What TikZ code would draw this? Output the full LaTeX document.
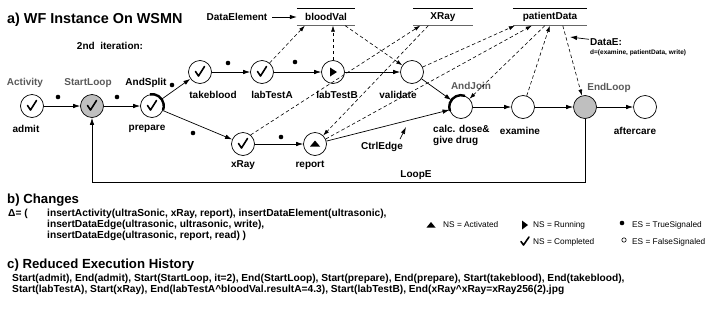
\documentclass[tikz,border=0pt]{standalone}
\usepackage{fontspec}
\setmainfont{Liberation Sans}
\usetikzlibrary{arrows.meta,calc}

\tikzset{
  act/.style={circle,draw,line width=0.7pt,minimum size=23pt,inner sep=0pt,fill=white},
  loopact/.style={act,fill=black!25},
  lbl/.style={font=\bfseries\fontsize{10}{11.5}\selectfont,inner sep=0pt},
  tag/.style={lbl,text=black!65},
  tiny/.style={font=\bfseries\fontsize{6.5}{8}\selectfont,inner sep=0pt},
  head/.style={font=\bfseries\fontsize{14.4}{16}\selectfont,inner sep=0pt},
  sect/.style={font=\bfseries\fontsize{13.2}{15}\selectfont,inner sep=0pt},
  txt/.style={font=\bfseries\fontsize{10.2}{11}\selectfont,inner sep=0pt},
  legtxt/.style={font=\fontsize{8.3}{10}\selectfont,inner sep=0pt},
  dobj/.style={lbl,minimum height=17pt},
  flow/.style={line width=0.7pt,-{Latex[length=7pt,width=4.5pt]}},
  dflow/.style={line width=0.6pt,dash pattern=on 3.5pt off 2.5pt,-{Latex[length=6pt,width=4pt]}},
}

\newcommand{\donemark}[1]{\draw[line width=1.6pt,line join=round,line cap=round]
  ($(#1)+(-4.5,-0.5)$) -- ($(#1)+(-1.5,4)$) -- ($(#1)+(4.5,-5.5)$);}

\begin{document}
\begin{tikzpicture}[x=1pt,y=-1pt]
\useasboundingbox (0,0) rectangle (709,322);

% a) instance
\node[head,anchor=west] (title) at (7,20) {a) WF Instance On WSMN};
\node[lbl] (iter) at (110,46) {2nd\ \ iteration:};

% data elements
\node[dobj,minimum width=58pt] (bloodVal) at (326,17) {bloodVal};
\node[dobj,minimum width=59pt] (XRay) at (443,17) {XRay};
\node[dobj,minimum width=74pt] (patientData) at (550,17) {patientData};
\foreach \d in {bloodVal,XRay,patientData}{
  \draw[line width=0.7pt] (\d.north west) -- (\d.north east);
  \draw[line width=0.7pt,black!60] (\d.south west) -- (\d.south east);
}

% activities
\node[act] (admit) at (32,106) {};
\node[loopact] (StartLoop) at (92,106) {};
\node[act] (prepare) at (152,106) {};
\node[act] (takeblood) at (200,72) {};
\node[act] (labTestA) at (262,72) {};
\node[act] (labTestB) at (333,72) {};
\node[act] (validate) at (412,72) {};
\node[act] (xRay) at (243,144) {};
\node[act] (report) at (315,144) {};
\node[act] (calc) at (461,107) {};
\node[act] (examine) at (523,107) {};
\node[loopact] (EndLoop) at (585,107) {};
\node[act] (aftercare) at (645,107) {};

% activity names
\node[lbl] (n-admit) at (26,129) {admit};
\node[lbl] (n-prepare) at (147,129) {prepare};
\node[lbl] (n-takeblood) at (213,95) {takeblood};
\node[lbl] (n-labTestA) at (272,95) {labTestA};
\node[lbl] (n-labTestB) at (337,95) {labTestB};
\node[lbl] (n-validate) at (398,95) {validate};
\node[lbl] (n-xRay) at (243,165) {xRay};
\node[lbl] (n-report) at (310,165) {report};
\node[lbl,align=left,anchor=north west] (n-calc) at (433,125) {calc. dose\&\\give drug};
\node[lbl] (n-examine) at (520,131) {examine};
\node[lbl] (n-aftercare) at (635,131) {aftercare};

% element tags
\node[tag] (t-act) at (25,83) {Activity};
\node[tag] (t-sloop) at (88,83) {StartLoop};
\node[lbl] (t-split) at (146,83) {AndSplit};
\node[tag] (t-join) at (471,86) {AndJoin};
\node[tag] (t-eloop) at (609,88) {EndLoop};
\node[lbl] (t-delem) at (237,17) {DataElement};
\node[lbl,anchor=west] (t-dataE) at (590,42) {DataE:};
\node[tiny,anchor=west] (t-d) at (590,53) {d=(examine, patientData, write)};
\node[lbl] (t-ctrl) at (382,147) {CtrlEdge};
\node[lbl] (t-loop) at (416,175) {LoopE};
\coordinate (ce) at (406,127);
\coordinate (de) at (570,37);
\draw[flow] (t-delem.east) ++(5,0) -- (bloodVal.west);
\draw[flow] ($(t-ctrl.north east)+(-3,-3)$) -- (ce);
\draw[flow] ($(t-dataE.north west)+(-1,1)$) -- (de);

% control flow
\draw[flow] (admit) -- (StartLoop);
\draw[flow] (StartLoop) -- (prepare);
\draw[flow] (prepare) -- (takeblood);
\draw[flow] (prepare) -- (xRay);
\draw[flow] (takeblood) -- (labTestA);
\draw[flow] (labTestA) -- (labTestB);
\draw[flow] (labTestB) -- (validate);
\draw[flow] (validate) -- (calc);
\draw[flow] (xRay) -- (report);
\draw[flow] (report) -- (calc);
\draw[flow] (calc) -- (examine);
\draw[flow] (examine) -- (EndLoop);
\draw[flow] (EndLoop) -- (aftercare);
\draw[flow] (EndLoop.south) -- (EndLoop.south |- 0,182) -| (StartLoop.south);

% data flow
\draw[dflow] (labTestA.50) -- ($(bloodVal.south west)+(8,0)$);
\draw[dflow] (labTestB) -- (labTestB |- bloodVal.south);
\draw[dflow] ($(bloodVal.south east)+(-10,0)$) -- (validate);
\draw[dflow] (xRay.50) -- ($(XRay.south west)+(7,0)$);
\draw[dflow] ($(XRay.south west)+(15,0)$) -- (report);
\draw[dflow] (validate.25) -- ($(patientData.south west)+(2,0)$);
\draw[dflow] (report.25) -- ($(patientData.south west)+(19,0)$);
\draw[dflow] (examine) -- ($(patientData.south west)+(37,0)$);
\draw[dflow] ($(patientData.south west)+(32,0)$) -- (calc);
\draw[dflow] ($(patientData.south west)+(50,0)$) -- (EndLoop);

% states
\foreach \n in {admit,StartLoop,prepare,takeblood,labTestA,xRay} {\donemark{\n}}
\fill (labTestB) ++(-3,-4.5) -- ++(7,4.5) -- ++(-7,4.5) -- cycle;
\fill (report) ++(-5,2.5) -- ++(5,-6) -- ++(5,6) -- cycle;
\draw[line width=2.4pt] (prepare.100) arc[start angle=-100,end angle=20,radius=11.8];
\draw[line width=2.4pt] (calc.70) arc[start angle=-70,end angle=-200,radius=11.8];

% edge signals
\foreach \x/\y in {58/97,117/97,172/85,228/63,295/62,193/133,281/137}
  \fill (\x,\y) circle (2.3);

% b) changes
\node[sect,anchor=west] (b) at (7,200) {b) Changes};
\node[txt,anchor=west] (delta) at (8,214) {Δ= (};
\node[txt,anchor=north west,align=left] (chg) at (47,209) {insertActivity(ultraSonic, xRay, report), insertDataElement(ultrasonic),\\
insertDataEdge(ultrasonic, ultrasonic, write),\\
insertDataEdge(ultrasonic, report, read) )};

% legend
\fill (431,225) ++(-4.5,2.5) -- ++(4.5,-5.5) -- ++(4.5,5.5) -- cycle;
\node[legtxt,anchor=west] (l-act) at (443,225) {NS = Activated};
\fill (525,225) ++(-3,-4.5) -- ++(6,4.5) -- ++(-6,4.5) -- cycle;
\node[legtxt,anchor=west] (l-run) at (533,225) {NS = Running};
\fill (622,223) circle (2.3);
\node[legtxt,anchor=west] (l-true) at (632,225) {ES = TrueSignaled};
\draw[line width=1.6pt,line join=round,line cap=round] (521,241.5) -- (523.5,245) -- (529,237);
\node[legtxt,anchor=west] (l-done) at (533,242) {NS = Completed};
\draw[line width=0.6pt] (624,240) circle (2.2);
\node[legtxt,anchor=west] (l-false) at (632,242) {ES = FalseSignaled};

% c) history
\node[sect,anchor=west] (c) at (7,265) {c) Reduced Execution History};
\node[txt,anchor=north west,align=left] (hist) at (12,274) {Start(admit), End(admit), Start(StartLoop, it=2), End(StartLoop), Start(prepare), End(prepare), Start(takeblood), End(takeblood),\\
Start(labTestA), Start(xRay), End(labTestA\textasciicircum bloodVal.resultA=4.3), Start(labTestB), End(xRay\textasciicircum xRay=xRay256(2).jpg};
\end{tikzpicture}
\end{document}
